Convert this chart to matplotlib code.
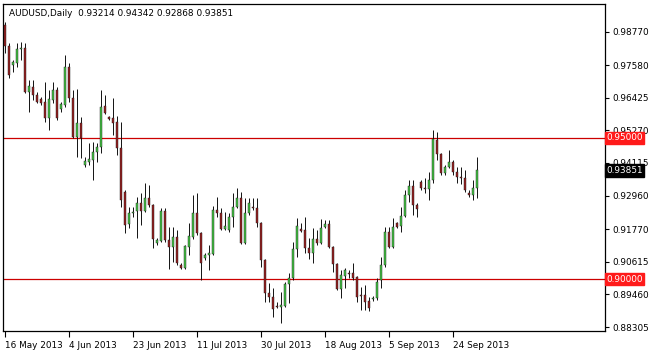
import matplotlib
matplotlib.use("Agg")
import matplotlib.pyplot as plt
from matplotlib.transforms import blended_transform_factory

symbol_title = "AUDUSD,Daily"

opens = [0.99001, 0.98257, 0.97584, 0.97655, 0.98151, 0.98186, 0.96628, 0.96805, 0.96522, 0.96380,
         0.96274, 0.95707, 0.96345, 0.96699, 0.96026, 0.96168, 0.97513, 0.96415, 0.95034, 0.95530,
         0.94043, 0.94149, 0.94220, 0.94503, 0.94680, 0.96132, 0.95743, 0.95707, 0.95565, 0.94645,
         0.93087, 0.91953, 0.92343, 0.92414, 0.92697, 0.92414, 0.92874, 0.92626, 0.91280, 0.91351,
         0.92414, 0.91387, 0.91139, 0.91493, 0.90501, 0.90395, 0.91139, 0.91493, 0.92343, 0.91635,
         0.90749, 0.90855, 0.90891, 0.92449, 0.92343, 0.91776, 0.91741, 0.92201, 0.92555, 0.92874,
         0.91280, 0.92343, 0.92555, 0.92520, 0.91989, 0.90678, 0.89510, 0.89368, 0.89049, 0.89014,
         0.89049, 0.89828, 0.90041, 0.91068, 0.91776, 0.91741, 0.91103, 0.90926, 0.91422, 0.91280,
         0.91847, 0.91953, 0.91139, 0.90537, 0.89651, 0.90112, 0.90218, 0.90218, 0.90076, 0.89439,
         0.89439, 0.89226, 0.89297, 0.89333, 0.89970, 0.90501, 0.91670, 0.91139, 0.91989, 0.91882,
         0.92237, 0.92980, 0.93299, 0.92626, 0.93441, 0.93228, 0.93193, 0.93511, 0.94928, 0.94432,
         0.93759, 0.93972, 0.94149, 0.93795, 0.93618, 0.93582, 0.93051, 0.92980, 0.93214]
highs = [0.99107, 0.98363, 0.97761, 0.98363, 0.98399, 0.98363, 0.97053, 0.97053, 0.96628, 0.96451,
         0.96982, 0.96699, 0.96982, 0.96805, 0.96274, 0.97938, 0.97655, 0.96699, 0.96734, 0.95743,
         0.94326, 0.94822, 0.94857, 0.94822, 0.96699, 0.96522, 0.95778, 0.96415, 0.95778, 0.95565,
         0.93157, 0.92555, 0.92555, 0.92909, 0.93051, 0.93405, 0.93334, 0.92650, 0.91457, 0.92520,
         0.92520, 0.91847, 0.91847, 0.91741, 0.90572, 0.91210, 0.91989, 0.92980, 0.93051, 0.91670,
         0.90926, 0.91210, 0.92591, 0.92909, 0.92520, 0.92378, 0.92343, 0.93051, 0.93228, 0.93087,
         0.92874, 0.92874, 0.92874, 0.92874, 0.92024, 0.90700, 0.89864, 0.89687, 0.89191, 0.89545,
         0.89899, 0.90218, 0.91316, 0.92166, 0.91989, 0.92201, 0.91457, 0.91812, 0.91741, 0.92130,
         0.92095, 0.92095, 0.91160, 0.90572, 0.90324, 0.90395, 0.90324, 0.90572, 0.90100, 0.89722,
         0.89793, 0.89368, 0.89403, 0.90041, 0.90785, 0.91847, 0.91847, 0.92166, 0.92024, 0.92555,
         0.93157, 0.93511, 0.93511, 0.92697, 0.93511, 0.93582, 0.93795, 0.95282, 0.95211, 0.94468,
         0.94043, 0.94574, 0.94220, 0.93972, 0.93972, 0.93866, 0.93157, 0.93511, 0.94342]
lows = [0.98009, 0.97124, 0.97336, 0.97513, 0.97761, 0.96592, 0.95920, 0.96345, 0.96238, 0.96168,
        0.95565, 0.95282, 0.96238, 0.95636, 0.95920, 0.96097, 0.96274, 0.94999, 0.94326, 0.94291,
        0.93972, 0.94043, 0.93511, 0.94149, 0.94468, 0.95849, 0.95636, 0.95105, 0.94397, 0.92555,
        0.91635, 0.91812, 0.92201, 0.91457, 0.91918, 0.92378, 0.92555, 0.91103, 0.91210, 0.91316,
        0.91316, 0.90360, 0.90608, 0.90501, 0.90360, 0.90360, 0.90855, 0.91422, 0.91564, 0.89970,
        0.90678, 0.90324, 0.90855, 0.92201, 0.91741, 0.91741, 0.91670, 0.91847, 0.92520, 0.91245,
        0.91245, 0.92272, 0.92449, 0.91847, 0.90430, 0.89191, 0.89191, 0.88660, 0.88978, 0.88447,
        0.89014, 0.89156, 0.89970, 0.90785, 0.91670, 0.90926, 0.90714, 0.90572, 0.91210, 0.91245,
        0.91812, 0.91103, 0.90253, 0.89616, 0.89333, 0.89687, 0.90041, 0.89970, 0.89191, 0.88908,
        0.88908, 0.88872, 0.89226, 0.89262, 0.89687, 0.90430, 0.91103, 0.91103, 0.91812, 0.91670,
        0.92201, 0.92732, 0.92272, 0.92201, 0.93157, 0.93051, 0.92803, 0.93405, 0.94220, 0.93689,
        0.93689, 0.93936, 0.93689, 0.93405, 0.93370, 0.93087, 0.92909, 0.92803, 0.92868]
closes = [0.98257, 0.97230, 0.97690, 0.98151, 0.98186, 0.96628, 0.96840, 0.96522, 0.96274, 0.96238,
          0.95707, 0.96380, 0.96699, 0.95707, 0.96203, 0.97513, 0.96415, 0.95034, 0.95530, 0.94999,
          0.94184, 0.94255, 0.94503, 0.94680, 0.96097, 0.95884, 0.95672, 0.95530, 0.94645, 0.92803,
          0.91918, 0.92343, 0.92378, 0.92697, 0.92414, 0.92874, 0.92626, 0.91422, 0.91387, 0.92414,
          0.91387, 0.91139, 0.91493, 0.90572, 0.90395, 0.91174, 0.91528, 0.92343, 0.91635, 0.90572,
          0.90855, 0.90926, 0.92449, 0.92343, 0.91776, 0.91882, 0.92201, 0.92555, 0.92874, 0.91280,
          0.92343, 0.92697, 0.92520, 0.91989, 0.90678, 0.89510, 0.89368, 0.88943, 0.89014, 0.89085,
          0.89828, 0.90041, 0.91068, 0.91882, 0.91705, 0.91103, 0.90926, 0.91422, 0.91280, 0.91812,
          0.91953, 0.91139, 0.90537, 0.89651, 0.90147, 0.90324, 0.90183, 0.90041, 0.89368, 0.89403,
          0.89191, 0.88978, 0.89333, 0.89899, 0.90501, 0.91670, 0.91139, 0.91847, 0.91847, 0.92237,
          0.92980, 0.93299, 0.92626, 0.92484, 0.93228, 0.93193, 0.93511, 0.94963, 0.94432, 0.93759,
          0.93972, 0.94149, 0.93795, 0.93618, 0.93582, 0.93157, 0.92980, 0.93228, 0.93851]

price_ticks = [0.98770, 0.97580, 0.96425, 0.95270, 0.94115, 0.92960, 0.91770, 0.90615, 0.89460, 0.88305]
date_labels = ["16 May 2013", "4 Jun 2013", "23 Jun 2013", "11 Jul 2013", "30 Jul 2013",
               "18 Aug 2013", "5 Sep 2013", "24 Sep 2013"]
date_label_bars = [0, 16, 32, 48, 64, 80, 96, 112]
hlines = [0.95000, 0.90000]

BULL = "#44c444"
BEAR = "#962020"
FONT = "DejaVu Sans"

fig = plt.figure(figsize=(6.5, 3.51), dpi=100)
fig.patch.set_facecolor("white")
W, H = 650.0, 351.0
ax = fig.add_axes([3 / W, 1 - 331 / H, (605 - 3) / W, (331 - 4) / H])
ax.set_facecolor("white")

n = len(opens)
xs = list(range(n))
for lvl in hlines:
    ax.axhline(lvl, color="#cc0000", lw=0.9, zorder=1)

bull_x, bull_b, bull_h = [], [], []
bear_x, bear_b, bear_h = [], [], []
for i in xs:
    o, c = opens[i], closes[i]
    lo_b, hi_b = min(o, c), max(o, c)
    hgt = max(hi_b - lo_b, 0.00004)
    if c >= o:
        bull_x.append(i); bull_b.append(lo_b); bull_h.append(hgt)
    else:
        bear_x.append(i); bear_b.append(lo_b); bear_h.append(hgt)

ax.vlines(xs, lows, highs, color="#111111", lw=0.7, zorder=2)
ax.bar(bull_x, bull_h, bottom=bull_b, width=0.66, color=BULL, edgecolor="#1a1a1a", lw=0.3, zorder=3)
ax.bar(bear_x, bear_h, bottom=bear_b, width=0.66, color=BEAR, edgecolor="#1a1a1a", lw=0.3, zorder=3)

ax.set_xlim(-0.5, 150)
ax.set_ylim(0.881635, 0.99744)

for s in ax.spines.values():
    s.set_color("black")
    s.set_linewidth(0.9)

ax.yaxis.tick_right()
ax.set_yticks(price_ticks)
ax.set_yticklabels([f"{v:.5f}" for v in price_ticks], fontsize=6.4, family=FONT, color="black")
ax.tick_params(axis="y", direction="out", length=3, width=0.8, pad=2, colors="black")

ax.set_xticks(date_label_bars)
ax.set_xticklabels([])
ax.tick_params(axis="x", direction="out", length=4, width=0.8, colors="black")
xt = blended_transform_factory(ax.transData, ax.transAxes)
for b, lab in zip(date_label_bars, date_labels):
    ax.text(b - 0.1, -0.03, lab, transform=xt, ha="left", va="top", fontsize=6.4, family=FONT, color="black")

yt = blended_transform_factory(ax.transAxes, ax.transData)
ax.text(1.002, 0.95000, "0.95000", transform=yt, ha="left", va="center", fontsize=6.4, family=FONT,
        color="white", bbox=dict(boxstyle="square,pad=0.18", fc="#ff1a1a", ec="#ff1a1a"), zorder=6, clip_on=False)
ax.text(1.002, closes[-1], f"{closes[-1]:.5f}", transform=yt, ha="left", va="center", fontsize=6.4, family=FONT,
        color="white", bbox=dict(boxstyle="square,pad=0.18", fc="black", ec="black"), zorder=6, clip_on=False)
ax.text(1.002, 0.90000, "0.90000", transform=yt, ha="left", va="center", fontsize=6.4, family=FONT,
        color="white", bbox=dict(boxstyle="square,pad=0.18", fc="#ff1a1a", ec="#ff1a1a"), zorder=6, clip_on=False)

header = f"{symbol_title}  {opens[-1]:.5f} {highs[-1]:.5f} {lows[-1]:.5f} {closes[-1]:.5f}"
ax.text(0.01, 0.972, header, transform=ax.transAxes, ha="left", va="center", fontsize=6.4, family=FONT, color="black")

fig.savefig("out.png", dpi=100, facecolor="white")
